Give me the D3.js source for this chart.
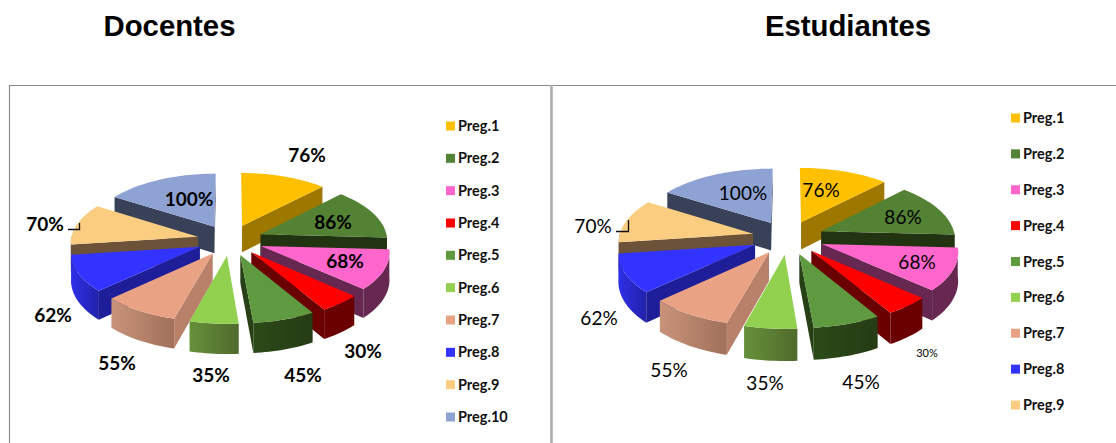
<!DOCTYPE html>
<html><head><meta charset="utf-8">
<style>html,body{margin:0;padding:0;background:#fff;overflow:hidden}svg{display:block}</style>
<script src="https://cdn.jsdelivr.net/npm/d3@7/dist/d3.min.js"></script>
</head><body><svg id="c" width="1116" height="443"></svg>
<script>
const categories = ["Preg.1","Preg.2","Preg.3","Preg.4","Preg.5","Preg.6","Preg.7","Preg.8","Preg.9","Preg.10"];
const values = [76,86,68,30,45,35,55,62,70,100];
const topColors = ["#FFC000","#548235","#FF66CC","#FF0000","#5F9A41","#92D050","#E9A384","#3333FF","#FBCD81","#8FA2D4"];
const wallColors = ["#9E7700","#223311","#662850","#6B0000","#274015","#5F8733","#B98169","#1E1E99","#6B5238","#384158"];
const rimStart = ["#9E7700","#223311","#662850","#6B0000","#2C4A18","#66903A","#C9937A","#2E2EE8","#6B5238","#384158"];
const rimEnd = ["#9E7700","#223311","#662850","#6B0000","#253C14","#506B2C","#A0705A","#2222AA","#6B5238","#384158"];
const legendLabels = {left: categories, right: categories.slice(0,9)};
const docentesLabels = [[307,155],[333,222],[345,261],[363,351],[303,375],[211,375],[117,363],[53,315],[45,224],[189,199]];
const estudiantesLabels = [[821,190],[903,217],[917,262],[927,353],[861,382],[765,383],[669,370],[599,318],[593,226],[743,193]];

const svg = d3.select("#c");
const defs = svg.append("defs");
const pieGen = d3.pie().sort(null).value(d=>d);
const topScale = d3.scaleOrdinal(categories, topColors);
const wallScale = d3.scaleOrdinal(categories, wallColors);
const line = d3.line();

values.forEach((v,i)=>{
  const g = defs.append("linearGradient").attr("id","rim"+i).attr("x1",0).attr("x2",1).attr("y1",0).attr("y2",0);
  g.append("stop").attr("offset",0).attr("stop-color",rimStart[i]);
  g.append("stop").attr("offset",1).attr("stop-color",rimEnd[i]);
});

function pie3d(o){
  const root = svg.append("g");
  const arcs = pieGen(values).map((a,i)=>({...a,i,mid:(a.startAngle+a.endAngle)/2}));
  const proj = (X,Y,h)=>{const s=o.d/(o.d+Y);return [o.cx+X*s,o.cy-o.k*Y*s+h*s];};
  arcs.slice().sort((a,b)=>Math.cos(b.mid)-Math.cos(a.mid)).forEach(a=>{
    const ox=o.e*Math.sin(a.mid), oy=o.e*Math.cos(a.mid);
    const pt=(t,h)=>proj(ox+o.r*Math.sin(t),oy+o.r*Math.cos(t),h);
    const apex=h=>proj(ox,oy,h);
    const sl=root.append("g");
    const n=Math.max(4,Math.ceil((a.endAngle-a.startAngle)/0.03));
    const ts=d3.range(n+1).map(j=>a.startAngle+(a.endAngle-a.startAngle)*j/n);
    const front=ts.filter(t=>Math.cos(t)<0.02);
    if(front.length>1){
      const poly=front.map(t=>pt(t,0)).concat(front.slice().reverse().map(t=>pt(t,o.h)));
      sl.append("path").attr("d",line(poly)+"Z").attr("fill",`url(#rim${a.i})`);
    }
    [a.startAngle,a.endAngle].forEach((t,w)=>{
      const facing = w===0 ? Math.sin(t)<0 : Math.sin(t)>0;
      if(!facing) return;
      const poly=[apex(0),pt(t,0),pt(t,o.h),apex(o.h)];
      sl.append("path").attr("d",line(poly)+"Z").attr("fill",wallScale(categories[a.i]));
    });
    const poly=[apex(0)].concat(ts.map(t=>pt(t,0)));
    sl.append("path").attr("d",line(poly)+"Z").attr("fill",topScale(categories[a.i]));
  });
  root.selectAll("text.v").data(values).join("text").attr("class","v")
    .attr("x",(d,i)=>o.labels[i][0]).attr("y",(d,i)=>o.labels[i][1]).attr("dy","0.35em")
    .attr("text-anchor","middle")
    .style("font-family","Lato, 'Open Sans', sans-serif")
    .style("font-weight",o.weight).style("font-size",(d,i)=>(o.small===i?11:o.fs)+"px")
    .attr("fill","#000").text(d=>d+"%");
  root.append("path").attr("d",line(o.leader)).attr("fill","none").attr("stroke","#111").attr("stroke-width",1.3);
  const ly=d3.scalePoint().domain(o.legend).range(o.legendY);
  const lg=root.selectAll("g.l").data(o.legend).join("g").attr("class","l").attr("transform",d=>`translate(${o.legendX},${ly(d)})`);
  lg.append("rect").attr("x",0).attr("y",-4.5).attr("width",9).attr("height",9).attr("fill",d=>topScale(d));
  lg.append("text").attr("x",12).attr("dy","0.35em").style("font-family","Lato, 'Open Sans', sans-serif")
    .style("font-weight",700).style("font-size","14.5px").attr("fill","#111").text(d=>d);
}

svg.append("path").attr("d","M9.5,443V85.5H551.5").attr("fill","none").attr("stroke","#8a8a8a").attr("stroke-width",1.2);
svg.append("path").attr("d","M551.5,85V443").attr("fill","none").attr("stroke","#aaa").attr("stroke-width",2.5);
svg.append("path").attr("d","M553,85.5H1116").attr("fill","none").attr("stroke","#8a8a8a").attr("stroke-width",1.2);

svg.selectAll("text.t").data([["Docentes",169.5],["Estudiantes",848]]).join("text").attr("class","t")
  .attr("x",d=>d[1]).attr("y",36).attr("text-anchor","middle")
  .style("font-family","'Liberation Sans', Arial, sans-serif").style("font-weight",700).style("font-size","29.3px")
  .attr("fill","#000").text(d=>d[0]);

pie3d({cx:230,cy:240,r:127,e:33,k:.4695,d:1517,h:27,labels:docentesLabels,weight:700,fs:19,small:-1,
  leader:[[68,229.5],[79.5,229.5],[79.5,223]],legend:legendLabels.left,legendX:446,legendY:[126,417]});
pie3d({cx:788,cy:237.5,r:134,e:36,k:.4685,d:1315,h:28,labels:estudiantesLabels,weight:400,fs:19,small:3,
  leader:[[616,231.5],[628.5,231.5],[628.5,220]],legend:legendLabels.right,legendX:1011,legendY:[118,405]});
</script></body></html>
